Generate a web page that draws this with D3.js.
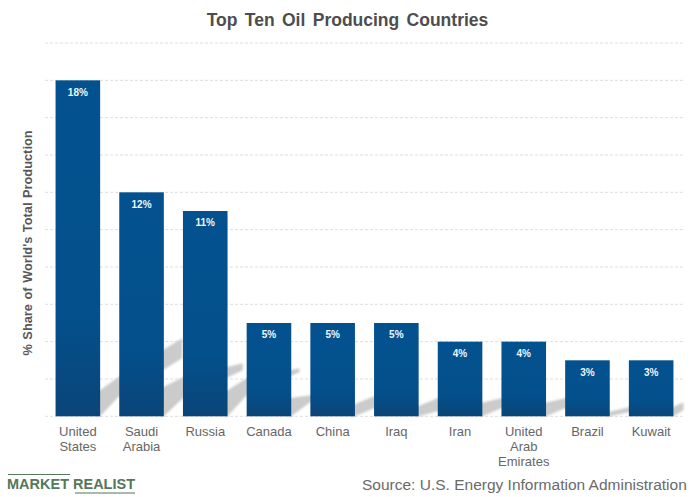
<!DOCTYPE html>
<html><head><meta charset="utf-8">
<script src="https://cdn.jsdelivr.net/npm/d3@7"></script>
<style>
html,body{margin:0;padding:0;background:#fff}
svg{display:block}
text{font-family:"Liberation Sans",Arial,sans-serif}
</style></head><body>
<svg id="c" width="696" height="497"></svg>
<script>
const categories=[["United","States"],["Saudi","Arabia"],["Russia"],["Canada"],["China"],["Iraq"],["Iran"],["United","Arab","Emirates"],["Brazil"],["Kuwait"]];
const shares=[18,12,11,5,5,5,4,4,3,3];
const gridTicks=[0,2,4,6,8,10,12,14,16,18,20];
// drop shadow outline per bar, in px from the bar's bottom right corner
const shadowStart=[24,28,24,18,11,9,13,13,4,8];
const shadowKneeTop=[39,39,38,21,20,18,18,18,9,14];
const shadowKneeBottom=[19,18,21,14,8,5,8,8,4,6];
const shadowKneeX=[18,19,19,19,19,19,19,19,19,10];
const shadowTipX=[82,79,72,35,35,35,35,35,35,10];
const shadowTipTop=[78,53,48,25,24,22,22,22,13,14];
const shadowTipBottom=[58,46,44,20,15,12,14,14,9,6];
const svg=d3.select("#c");
const x=d3.scaleBand().domain(categories.map(d=>d.join(" "))).range([46,683]).paddingInner(0.3).paddingOuter(0.15);
const y=d3.scaleLinear().domain([0,20]).range([416.3,43]);
const defs=svg.append("defs");
const g=defs.append("linearGradient").attr("id","bar").attr("x1",0).attr("x2",0).attr("y1",0).attr("y2",1).attr("gradientUnits","objectBoundingBox");
g.append("stop").attr("offset","0").attr("stop-color","#03528f");
g.append("stop").attr("offset","0.7").attr("stop-color","#03508c");
g.append("stop").attr("offset","1").attr("stop-color","#0a4578");
defs.append("filter").attr("id","blur").append("feGaussianBlur").attr("stdDeviation",1);
svg.append("text").attr("x",347.5).attr("y",26).attr("text-anchor","middle").attr("font-size",17.5).attr("font-weight","bold").attr("fill","#4d4d4f").attr("word-spacing",2.5).text("Top Ten Oil Producing Countries");
svg.append("g").selectAll("line").data(gridTicks).join("line").attr("x1",45).attr("x2",683).attr("y1",d=>y(d)).attr("y2",d=>y(d)).attr("stroke","#dedede").attr("stroke-width",1).attr("stroke-dasharray","3 2");
svg.append("g").attr("filter","url(#blur)").selectAll("path").data(shares).join("path")
 .attr("fill","#cbcbcb")
 .attr("d",(d,i)=>{const xr=x(categories[i].join(" "))+x.bandwidth(),b=y(0);
   const pts=[[xr-3,b],[xr-3,b-shadowStart[i]],[xr+shadowKneeX[i],b-shadowKneeTop[i]],[xr+shadowTipX[i],b-shadowTipTop[i]],[xr+shadowTipX[i],b-shadowTipBottom[i]],[xr+shadowKneeX[i],b-shadowKneeBottom[i]],[xr,b]];
   return d3.line()(pts)+"Z";});
svg.append("g").selectAll("rect").data(shares).join("rect")
 .attr("x",(d,i)=>x(categories[i].join(" "))).attr("width",x.bandwidth())
 .attr("y",d=>y(d)).attr("height",d=>y(0)-y(d)).attr("fill","url(#bar)");
svg.append("g").selectAll("text").data(shares).join("text")
 .attr("x",(d,i)=>x(categories[i].join(" "))+x.bandwidth()/2).attr("y",d=>y(d)+15.5)
 .attr("text-anchor","middle").attr("font-size",10).attr("font-weight","bold").attr("fill","#eef6fb").text(d=>d+"%");
const lab=svg.append("g").selectAll("text").data(categories).join("text")
 .attr("text-anchor","middle").attr("font-size",13).attr("fill","#666666");
lab.each(function(d,i){const t=d3.select(this),cx=x(d.join(" "))+x.bandwidth()/2;
 d.forEach((s,j)=>t.append("tspan").attr("x",cx).attr("y",435.5+j*15.4).text(s));});
svg.append("text").attr("transform","translate(32,243) rotate(-90)").attr("text-anchor","middle").attr("font-size",12.8).attr("font-weight","bold").attr("fill","#58585a").attr("word-spacing",1).text("% Share of World's Total Production");
svg.append("text").attr("x",362).attr("y",490).attr("font-size",15.5).attr("fill","#6a6a6a").text("Source: U.S. Energy Information Administration");
svg.append("line").attr("x1",8).attr("x2",70).attr("y1",474.5).attr("y2",474.5).attr("stroke","#55775a").attr("stroke-width",1.2);
svg.append("line").attr("x1",75).attr("x2",135).attr("y1",493).attr("y2",493).attr("stroke","#55775a").attr("stroke-width",1.2);
svg.append("text").attr("x",7).attr("y",489).attr("font-size",15).attr("font-weight","bold").attr("fill","#55775a").attr("textLength",128).attr("lengthAdjust","spacingAndGlyphs").text("MARKET REALIST");
</script></body></html>
